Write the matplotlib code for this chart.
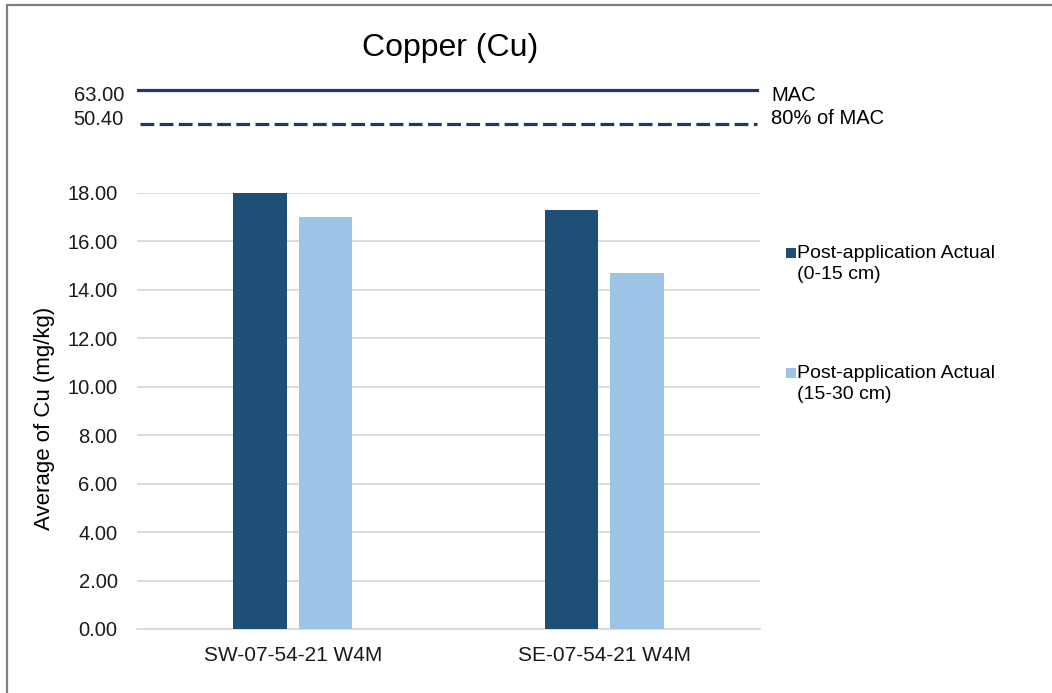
import numpy as np
import matplotlib.pyplot as plt
from matplotlib.patches import Rectangle
from matplotlib.transforms import blended_transform_factory

plt.rcParams['font.family'] = ['Liberation Sans', 'DejaVu Sans']

sites = ['SW-07-54-21 W4M', 'SE-07-54-21 W4M']
series = ['Post-application Actual\n(0-15 cm)', 'Post-application Actual\n(15-30 cm)']
cu_0_15 = [18.00, 17.30]
cu_15_30 = [17.00, 14.70]
mac = 63.00
mac80 = 50.40
colors = ['#1F4E79', '#9DC3E6']
line_col = '#1F3864'

fig = plt.figure(figsize=(10.52, 6.93), dpi=100)
W, H = 1052, 693

# border of the chart area
fig.patches.append(Rectangle((7 / W, -0.05), 1.2, 1 - 5 / H + 0.05, transform=fig.transFigure,
                             fill=False, edgecolor='#7F7F7F', linewidth=1.6))

# main bar axes
ax = fig.add_axes([137 / W, 1 - 629 / H, 623 / W, 436 / H])
x = np.arange(len(sites))
w = 0.173
ax.bar(x - 0.105, cu_0_15, w, color=colors[0], zorder=3)
ax.bar(x + 0.105, cu_15_30, w, color=colors[1], zorder=3)
ax.set_xlim(-0.5, 1.5)
ax.set_ylim(0, 18)
ax.set_yticks(np.arange(0, 18.1, 2))
ax.set_yticklabels([f'{v:.2f}' for v in np.arange(0, 18.1, 2)])
ax.set_xticks(x)
ax.set_xticklabels(sites)
ax.grid(axis='y', color='#D9D9D9', linewidth=1.3, zorder=0)
for s in ['left', 'right', 'top']:
    ax.spines[s].set_visible(False)
ax.spines['bottom'].set_color('#D9D9D9')
ax.spines['bottom'].set_linewidth(1.3)
ax.tick_params(axis='y', length=0, pad=14, labelsize=14.5, labelcolor='#1A1A1A')
ax.tick_params(axis='x', length=0, pad=12, labelsize=15, labelcolor='#1A1A1A')

# MAC reference axes on top
ax2 = fig.add_axes([137 / W, 1 - 135 / H, 623 / W, 55 / H])
ax2.axhline(mac, xmin=0, xmax=0.995, color=line_col, linewidth=2.3)
ax2.axhline(mac80, xmin=0.005, xmax=0.995, color=line_col, linewidth=2.3, linestyle=(0, (4.3, 1.7)))
ax2.set_ylim(46.32, 66.71)
ax2.set_xlim(0, 1)
ax2.set_xticks([])
ax2.set_yticks([])
for s in ax2.spines.values():
    s.set_visible(False)
tr = blended_transform_factory(ax2.transAxes, ax2.transData)
ax2.text(-0.021, mac - 2.0, f'{mac:.2f}', transform=tr, va='center', ha='right', fontsize=14.5, color='#1A1A1A')
ax2.text(-0.021, mac80 + 1.6, f'{mac80:.2f}', transform=tr, va='center', ha='right', fontsize=14.5, color='#1A1A1A')
ax2.text(1.018, mac - 2.0, 'MAC', transform=tr, va='center', ha='left', fontsize=14.5)
ax2.text(1.018, mac80 + 1.9, '80% of MAC', transform=tr, va='center', ha='left', fontsize=14.5)

fig.text(450 / W, 1 - 48 / H, 'Copper (Cu)', ha='center', va='center', fontsize=23)
fig.text(45 / W, 1 - 418 / H, 'Average of Cu (mg/kg)', ha='center', va='center', rotation=90, fontsize=16)

# legend
for i, (lab, c) in enumerate(zip(series, colors)):
    top = [245, 365][i]
    fig.patches.append(Rectangle((786 / W, 1 - 258 / H - i * 120 / H), 10 / W, 10 / H, transform=fig.transFigure,
                                 facecolor=c, edgecolor='none'))
    fig.text(797 / W, 1 - top / H, lab, ha='left', va='top', fontsize=14, linespacing=1.32)

fig.savefig('out.png', dpi=100)
